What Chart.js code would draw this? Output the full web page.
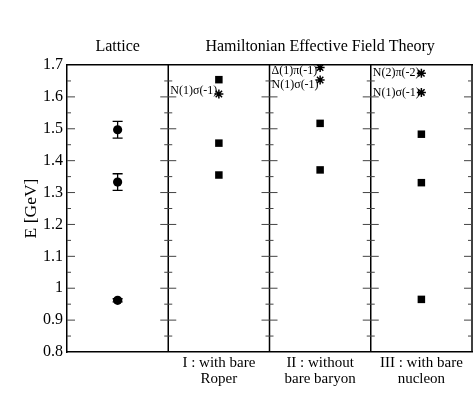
<!DOCTYPE html>
<html><head><meta charset="utf-8">
<script src="https://cdn.jsdelivr.net/npm/chart.js@4/dist/chart.umd.min.js"></script>
<style>html,body{margin:0;padding:0;background:#fff;}#wrap{width:473px;height:410px;}</style>
</head><body><div id="wrap"><canvas id="c" width="473" height="410"></canvas></div>
<script>
// ---- data ----
const topTitles = ['Lattice', 'Hamiltonian Effective Field Theory'];
const bottomLabels = [['I : with bare', 'Roper'], ['II : without', 'bare baryon'], ['III : with bare', 'nucleon']];
const yTicks = [0.8, 0.9, 1.0, 1.1, 1.2, 1.3, 1.4, 1.5, 1.6, 1.7];
const yTickLabels = ['0.8', '0.9', '1', '1.1', '1.2', '1.3', '1.4', '1.5', '1.6', '1.7'];

const latticeE = [1.497, 1.333, 0.962];
const latticeErr = [0.026, 0.026, 0.005];

const roperE = [1.654, 1.455, 1.355];
const noBareE = [1.517, 1.371];
const bareNucleonE = [1.483, 1.331, 0.965];

const roperChannelE = [1.609];
const roperChannelLabels = ['N(1)σ(-1)'];
const noBareChannelE = [1.692, 1.653];
const noBareChannelLabels = ['Δ(1)π(-1)', 'N(1)σ(-1)'];
const bareNucleonChannelE = [1.674, 1.614];
const bareNucleonChannelLabels = ['N(2)π(-2)', 'N(1)σ(-1)'];

// ---- styling ----
const SERIF = "'Liberation Serif', 'Times New Roman', 'DejaVu Serif', serif";
const labelDy = [[-3], [3, 5], [0, 0]];
const pts = (panel, arr) => arr.map(v => ({ x: panel + 0.5, y: v }));

const squareStyle = { pointStyle: 'rect', pointRadius: 5.3, backgroundColor: '#000', borderColor: '#000', borderWidth: 0, showLine: false };
const starStyle = { pointStyle: 'star', pointRadius: 4.5, backgroundColor: '#000', borderColor: '#000', borderWidth: 1.5, showLine: false };

const decor = {
  id: 'decor',
  afterDatasetsDraw(chart) {
    const { ctx, chartArea: a, scales: { x, y } } = chart;
    ctx.save();
    ctx.strokeStyle = '#000'; ctx.lineWidth = 1.5;
    [1, 2, 3, 4].forEach(v => {
      const px = x.getPixelForValue(v);
      ctx.beginPath(); ctx.moveTo(px, a.top); ctx.lineTo(px, a.bottom); ctx.stroke();
    });
    ctx.strokeStyle = '#444'; ctx.lineWidth = 1;
    const minor = [];
    for (let k = 0; k < yTicks.length - 1; k++) minor.push((yTicks[k] + yTicks[k + 1]) / 2);
    [0, 1, 2, 3, 4].forEach(v => {
      const px = x.getPixelForValue(v);
      const goLeft = v > 0, goRight = v < 4;
      const draw = (val, len) => {
        const py = y.getPixelForValue(val);
        ctx.beginPath();
        ctx.moveTo(goLeft ? px - len : px, py);
        ctx.lineTo(goRight ? px + len : px, py);
        ctx.stroke();
      };
      yTicks.slice(1, -1).forEach(t => draw(t, 8));
      minor.forEach(t => draw(t, 4));
    });
    ctx.strokeStyle = '#000'; ctx.lineWidth = 1.3;
    chart.getDatasetMeta(0).data.forEach((p, i) => {
      const y1 = y.getPixelForValue(latticeE[i] + latticeErr[i]);
      const y2 = y.getPixelForValue(latticeE[i] - latticeErr[i]);
      ctx.beginPath();
      ctx.moveTo(p.x, y1); ctx.lineTo(p.x, y2);
      ctx.moveTo(p.x - 5, y1); ctx.lineTo(p.x + 5, y1);
      ctx.moveTo(p.x - 5, y2); ctx.lineTo(p.x + 5, y2);
      ctx.stroke();
    });
    ctx.fillStyle = '#000';
    ctx.font = '12px ' + SERIF;
    ctx.textAlign = 'left'; ctx.textBaseline = 'middle';
    const labelSets = [roperChannelLabels, noBareChannelLabels, bareNucleonChannelLabels];
    [4, 5, 6].forEach((di, k) => {
      const left = x.getPixelForValue(k + 1) + 2;
      chart.getDatasetMeta(di).data.forEach((p, i) => {
        ctx.fillText(labelSets[k][i], left, p.y + labelDy[k][i]);
      });
    });
    ctx.restore();
  }
};

new Chart(document.getElementById('c'), {
  type: 'scatter',
  data: {
    datasets: [
      { data: pts(0, latticeE), pointStyle: 'circle', pointRadius: 4.6, backgroundColor: '#000', borderColor: '#000', borderWidth: 0 },
      { data: pts(1, roperE), ...squareStyle },
      { data: pts(2, noBareE), ...squareStyle },
      { data: pts(3, bareNucleonE), ...squareStyle },
      { data: pts(1, roperChannelE), ...starStyle },
      { data: pts(2, noBareChannelE), ...starStyle },
      { data: pts(3, bareNucleonChannelE), ...starStyle }
    ]
  },
  options: {
    responsive: false,
    animation: false,
    devicePixelRatio: 1,
    layout: { autoPadding: false, padding: { left: 21, right: 1, top: 0, bottom: 0 } },
    plugins: { legend: { display: false }, tooltip: { enabled: false } },
    scales: {
      x: {
        type: 'linear', min: 0, max: 4, position: 'bottom',
        grid: { display: false, drawTicks: false },
        border: { display: true, color: '#000', width: 1.5 },
        afterBuildTicks: s => { s.ticks = [1.5, 2.5, 3.5].map(v => ({ value: v })); },
        ticks: { autoSkip: false, maxRotation: 0, padding: 3, color: '#000',
          font: { family: SERIF, size: 15, lineHeight: 1.05 },
          callback: (v, i) => bottomLabels[i] },
        afterFit: s => { s.height = 58; }
      },
      xTop: {
        type: 'linear', min: 0, max: 4, position: 'top',
        grid: { display: false, drawTicks: false },
        border: { display: true, color: '#000', width: 1.5 },
        afterBuildTicks: s => { s.ticks = [0.5, 2.5].map(v => ({ value: v })); },
        ticks: { autoSkip: false, maxRotation: 0, padding: 9, color: '#000',
          font: { family: SERIF, size: 16 },
          callback: (v, i) => topTitles[i] },
        afterFit: s => { s.height = 65; }
      },
      y: {
        min: 0.8, max: 1.7,
        grid: { display: false, drawTicks: false },
        border: { display: true, color: '#000', width: 1.5 },
        afterBuildTicks: s => { s.ticks = yTicks.map(v => ({ value: v })); },
        ticks: { autoSkip: false, padding: 4, color: '#000',
          font: { family: SERIF, size: 16 },
          callback: (v, i) => yTickLabels[i] },
        title: { display: true, text: 'E [GeV]', color: '#000', font: { family: SERIF, size: 17.5 }, padding: 0 },
        afterFit: s => { s.width = 46; }
      }
    }
  },
  plugins: [decor]
});
</script>
</body></html>
